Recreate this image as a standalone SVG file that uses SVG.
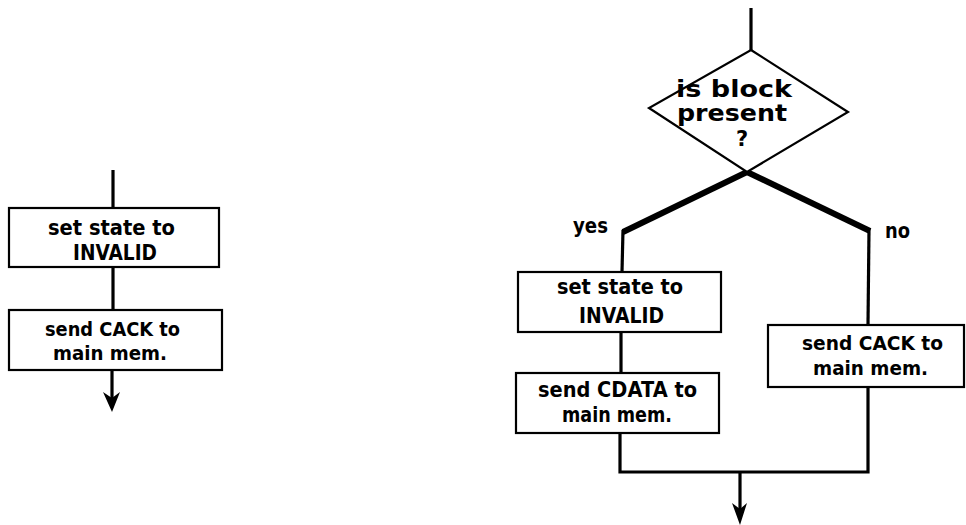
<svg xmlns="http://www.w3.org/2000/svg" width="966" height="525" viewBox="0 0 966 525">
<defs>
<style>
.box{fill:#fff;stroke:#000;stroke-width:2.2}
.ln{fill:none;stroke:#000;stroke-width:3.2;stroke-linejoin:miter}
.thick{fill:none;stroke:#000;stroke-width:6;stroke-linejoin:miter}
.head{fill:#000;stroke:none}
.t{font-family:"DejaVu Sans",sans-serif;font-size:21px;font-weight:bold;fill:#000}
.s{font-size:19px}
.d{font-size:23px}
</style>
</defs>
<rect width="966" height="525" fill="#fff"/>
<g id="connectors">
<line class="ln" x1="113" y1="170" x2="113" y2="208"/>
<line class="ln" x1="113" y1="267" x2="113" y2="310"/>
<line class="ln" x1="112" y1="370" x2="112" y2="400"/>
<path class="head" d="M112,412 L103,392 L112,398 L120,392 Z"/>
<line class="ln" x1="751" y1="8" x2="751" y2="50"/>
<polyline class="thick" points="747,172 623,232"/>
<polyline class="ln" points="623,230 622,272"/>
<polyline class="thick" points="747,172 870,231"/>
<polyline class="ln" points="869,229 868,325"/>
<line class="ln" x1="621" y1="332" x2="621" y2="373"/>
<polyline class="ln" points="620,433 620,472 868,472 868,387"/>
<line class="ln" x1="740" y1="472" x2="740" y2="512"/>
<path class="head" d="M740,525 L732,503 L740,509 L747,503 Z"/>
</g>
<g id="left-invalid">
<rect class="box" x="9" y="208" width="210" height="59"/>
<text class="t" x="48" y="235" textLength="127" lengthAdjust="spacingAndGlyphs">set state to</text>
<text class="t" x="73" y="260" textLength="84" lengthAdjust="spacingAndGlyphs">INVALID</text>
</g>
<g id="left-cack">
<rect class="box" x="9" y="310" width="213" height="60"/>
<text class="t s" x="45" y="336" textLength="135" lengthAdjust="spacingAndGlyphs">send CACK to</text>
<text class="t s" x="53" y="360" textLength="114" lengthAdjust="spacingAndGlyphs">main mem.</text>
</g>
<g id="decision">
<polygon class="box" points="751,50 848,112 747,172 649,108"/>
<text class="t d" x="676" y="97" textLength="116" lengthAdjust="spacingAndGlyphs">is block</text>
<text class="t d" x="677" y="121" textLength="110" lengthAdjust="spacingAndGlyphs">present</text>
<text class="t" x="736" y="146">?</text>
</g>
<g id="label-yes"><text class="t" x="573" y="233" textLength="35" lengthAdjust="spacingAndGlyphs">yes</text></g>
<g id="label-no"><text class="t" x="885" y="238" textLength="25" lengthAdjust="spacingAndGlyphs">no</text></g>
<g id="right-invalid">
<rect class="box" x="518" y="272" width="203" height="60"/>
<text class="t" x="557" y="294" textLength="126" lengthAdjust="spacingAndGlyphs">set state to</text>
<text class="t" x="579" y="323" textLength="85" lengthAdjust="spacingAndGlyphs">INVALID</text>
</g>
<g id="right-cdata">
<rect class="box" x="516" y="373" width="203" height="60"/>
<text class="t" x="538" y="397" textLength="159" lengthAdjust="spacingAndGlyphs">send CDATA to</text>
<text class="t" x="562" y="422" textLength="110" lengthAdjust="spacingAndGlyphs">main mem.</text>
</g>
<g id="right-cack">
<rect class="box" x="768" y="325" width="196" height="62"/>
<text class="t s" x="802" y="350" textLength="141" lengthAdjust="spacingAndGlyphs">send CACK to</text>
<text class="t s" x="813" y="375" textLength="115" lengthAdjust="spacingAndGlyphs">main mem.</text>
</g>
</svg>
